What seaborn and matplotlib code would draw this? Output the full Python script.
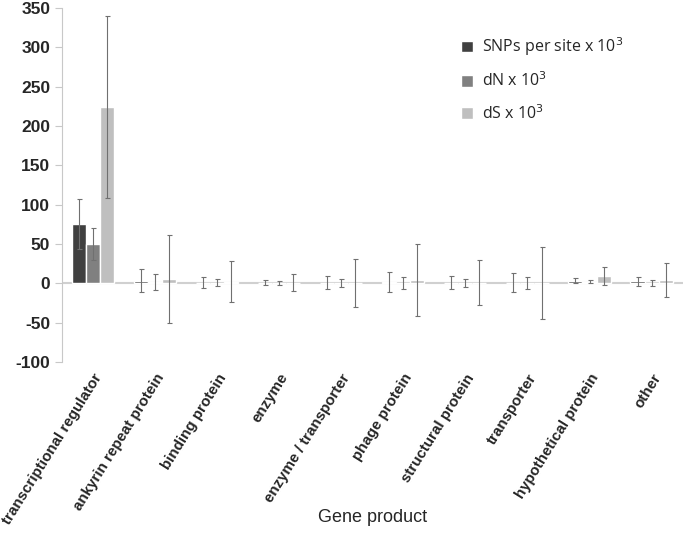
import numpy as np
import pandas as pd
import matplotlib
matplotlib.use("Agg")
import matplotlib.pyplot as plt
import seaborn as sns

categories = ["transcriptional regulator", "ankyrin repeat protein", "binding protein",
              "enzyme", "enzyme / transporter", "phage protein", "structural protein",
              "transporter", "hypothetical protein", "other"]
series = ["SNPs per site x 10$^3$", "dN x 10$^3$", "dS x 10$^3$"]

snp_vals = [75, 3.5, 1, 1, 1, 2, 1, 0.5, 3.5, 2.5]
snp_err = [32, 15, 7, 3, 8, 12.5, 8, 12, 3, 5.5]
dn_vals = [50, 1.5, 1, 0.5, 0.5, 0.5, 0.5, 0.3, 2, 0.5]
dn_err = [20, 10, 4, 2, 5, 8, 5, 8, 2, 4]
ds_vals = [224, 6, 2, 1, 0.5, 4, 1, 0.5, 9.5, 4]
ds_err = [116, 56, 26, 11, 30, 46, 28, 46, 11, 21.5]

colors = ["#404040", "#808080", "#bfbfbf"]

df = pd.DataFrame({
    "category": categories * 3,
    "series": np.repeat(series, len(categories)),
    "value": snp_vals + dn_vals + ds_vals,
    "err": snp_err + dn_err + ds_err,
})

sns.set_style("white")
plt.rcParams["font.family"] = ["Liberation Sans", "DejaVu Sans"]
plt.rcParams["axes.unicode_minus"] = False

fig = plt.figure(figsize=(6.85, 5.57), dpi=100)
ax = fig.add_axes([0.0905, 0.35, 0.906, 0.636])

sns.barplot(data=df, x="category", y="value", hue="series", order=categories,
            hue_order=series, palette=colors, errorbar=None, width=0.68,
            saturation=1, ax=ax)

# error bars on top of each bar
errs = [snp_err, dn_err, ds_err]
for cont, e in zip(ax.containers, errs):
    xs = [p.get_x() + p.get_width() / 2 for p in cont.patches]
    ys = [p.get_height() for p in cont.patches]
    ax.errorbar(xs, ys, yerr=e, fmt="none", ecolor="#707070", elinewidth=0.8,
                capsize=1.8, capthick=0.8, zorder=3)

ax.axhline(0, color="#d0d0d0", lw=1.5, zorder=0.5)
ax.set_ylim(-100, 350)
ax.set_yticks(np.arange(-100, 351, 50))
ax.set_xlim(-0.5, len(categories) - 0.5)

for s in ["top", "right", "bottom"]:
    ax.spines[s].set_visible(False)
ax.spines["left"].set_color("#c8c8c8")
ax.tick_params(axis="y", left=True, length=5, color="#c8c8c8", labelsize=12.5)
ax.tick_params(axis="x", bottom=False, labelsize=10.9, pad=3)
for t in ax.get_yticklabels():
    t.set_fontweight("bold")
ax.set_xticks(range(len(categories)))
ax.set_xticklabels(categories, rotation=58, ha="right", rotation_mode="anchor",
                   fontweight="bold")
ax.set_ylabel("")
ax.set_xlabel("Gene product", fontsize=13)
ax.xaxis.set_label_coords(0.5, -0.438)
ax.xaxis.label.set_va("center")

leg = ax.legend(loc="upper right", bbox_to_anchor=(0.915, 0.94), frameon=False,
                borderaxespad=0,
                prop={"family": ["Open Sans", "DejaVu Sans"], "size": 11.5},
                handlelength=0.75, handleheight=0.75, handletextpad=0.6,
                labelspacing=0.85)

fig.savefig("out.png", dpi=100)
